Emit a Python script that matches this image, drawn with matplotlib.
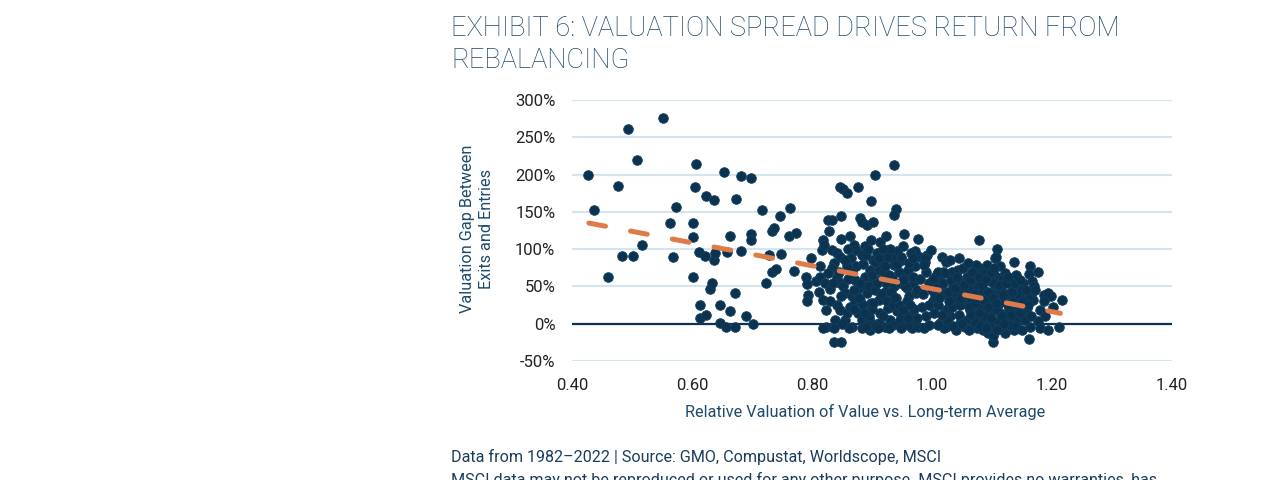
import matplotlib
matplotlib.use("Agg")
import matplotlib.pyplot as plt
from matplotlib.ticker import FuncFormatter

# ── Fonts / colours ───────────────────────────────────────────────────────────
FONT = ["Roboto", "DejaVu Sans"]
plt.rcParams["font.family"] = FONT

NAVY   = "#0b3350";  DOT_EDGE = "#12405f";  GRID = "#d3e5ee"
ORANGE = "#df7b48";  TITLE_C  = "#1e4868";  LABEL_C = "#1d4a6a"
TICK_C = "#222222";  NOTE_C   = "#1b3c5c"

W, H, DPI = 1275, 480, 100

# ── Data ──────────────────────────────────────────────────────────────────────
x_ticks = [0.40, 0.60, 0.80, 1.00, 1.20, 1.40]
y_ticks = [-50, 0, 50, 100, 150, 200, 250, 300]

# sparse left part, 0.42 - 0.78
rel_left = [0.427, 0.436, 0.460, 0.476, 0.483, 0.494, 0.501, 0.509, 0.516, 0.552,
            0.563, 0.568, 0.573, 0.601, 0.602, 0.601, 0.605, 0.607, 0.612, 0.614,
            0.614, 0.622, 0.623, 0.623, 0.630, 0.634, 0.636, 0.637, 0.639, 0.646,
            0.646, 0.653, 0.657, 0.659, 0.663, 0.663, 0.671, 0.672, 0.674, 0.682,
            0.682, 0.690, 0.698, 0.698, 0.698, 0.702, 0.716, 0.724, 0.729, 0.733,
            0.737, 0.734, 0.740, 0.747, 0.749, 0.763, 0.762, 0.773, 0.770]
gap_left = [199, 152, 62, 185, 91, 261, 91, 219, 105, 276,
            135, 90, 157, 62, 135, 116, 184, 214, 96, 25,
            8, 91, 171, 12, 46, 55, 85, 166, 95, 25,
            1, 203, -5, 96, 17, 117, 41, -4, 167, 198,
            98, 11, 120, 112, 195, 0, 153, 55, 92, 124,
            129, 70, 74, 144, 94, 155, 117, 122, 71]

# middle cloud, 0.79 - 1.02
rel_mid = [0.798, 0.790, 0.791, 0.794, 0.792, 0.807, 0.812, 0.813, 0.814, 0.816,
           0.819, 0.820, 0.829, 0.827, 0.833, 0.849, 0.847, 0.852, 0.858, 0.876,
           0.849, 0.863, 0.833, 0.841, 0.847, 0.836, 0.833, 0.841, 0.847, 0.852,
           0.855, 0.849, 0.841, 0.847, 0.838, 0.824, 0.819, 0.836, 0.836, 0.848,
           0.855, 0.858, 0.863, 0.866, 0.872, 0.877, 0.880, 0.883, 0.866, 0.883,
           0.897, 0.897, 0.911, 0.922, 0.930, 0.927, 0.941, 0.947, 0.958, 0.966,
           0.977, 0.986, 0.972, 0.963, 0.983, 1.002, 1.008, 1.011, 1.016, 1.024,
           1.019, 0.902, 0.897, 0.888, 0.886, 0.891, 0.902, 0.911, 0.919, 0.916,
           0.913, 0.924, 0.899, 0.880, 0.884, 0.891, 0.901, 0.898, 0.905, 0.936,
           0.940, 0.936, 0.953, 0.977, 0.952, 0.941, 0.933, 0.936, 0.933, 0.924,
           0.922, 0.936, 0.947, 0.958, 0.961, 0.969, 0.974, 0.972, 0.980, 0.988,
           0.991, 0.972, 0.999, 0.874, 0.883, 0.874, 0.866, 0.858, 0.888, 0.908,
           0.905, 0.872, 0.877, 0.899, 0.911, 0.913, 0.827, 0.822, 0.819, 0.824,
           0.830, 0.860, 0.865, 0.870, 0.890, 0.895, 0.905, 0.915, 0.920, 0.925,
           0.930, 0.945, 0.950, 0.955, 0.960, 0.965, 0.870, 0.885, 0.895, 0.905,
           0.915, 0.925, 0.935, 0.940, 0.950, 0.960, 0.830, 0.835, 0.845, 0.855,
           0.860, 0.862, 0.850, 0.890, 0.900, 0.910, 0.935, 0.945, 0.955, 0.970,
           0.975, 0.880, 0.885, 0.893, 0.900, 0.908, 0.912, 0.918, 0.922, 0.928,
           0.932, 0.938, 0.942, 0.948, 0.952, 0.958, 0.962, 0.968, 0.975, 0.980,
           0.985, 0.990, 0.995, 0.870, 0.878, 0.888, 0.902, 0.918, 0.928, 0.948,
           0.960]
gap_mid = [88, 63, 53, 39, 31, 57, 43, 63, 77, 99,
           112, 106, 125, 139, 139, 145, 184, 180, 175, 183,
           114, 117, 99, 95, 90, 81, 75, 63, 54, 50,
           41, 37, 25, 19, 5, -4, -6, -6, -24, -25,
           5, 14, 23, 37, 30, 14, 32, 5, -4, -6,
           -8, 3, 1, -4, 5, 21, 17, 5, 2, -6,
           -4, -6, 3, 12, 23, 30, 66, 59, 90, 83,
           70, 86, 72, 63, 50, 41, 59, 72, 81, 97,
           110, 117, 112, 142, 137, 133, 136, 164, 200, 213,
           154, 146, 120, 114, 104, 97, 88, 79, 63, 54,
           43, 50, 54, 48, 37, 54, 41, 77, 90, 83,
           92, 97, 99, 99, 92, 77, 70, 77, 104, 95,
           83, 59, 46, 28, 32, 14, 68, 54, 32, 19,
           46, 60, 88, 105, 92, 50, 45, 60, 70, 90,
           100, 70, 85, 62, 72, 95, 20, 25, 10, -3,
           40, 30, 25, 35, 15, -2, 30, 55, 70, 85,
           100, -6, 0, -4, 20, -6, -2, 25, 50, 20,
           8, 55, 80, 100, 65, 55, 88, 100, 78, 65,
           42, 35, 80, 90, 58, 30, 82, 62, 45, 60,
           40, 70, 25, 45, 35, 15, 28, 10, -6, -6,
           8]

# dense right cluster, 0.95 - 1.22
rel_right = [0.969, 0.988, 0.986, 1.005, 0.963, 0.952, 1.013, 1.024, 1.030, 1.022,
             1.030, 1.036, 1.041, 1.038, 1.033, 1.044, 1.052, 1.058, 1.049, 1.063,
             1.058, 1.047, 1.066, 1.074, 1.083, 1.091, 1.097, 1.094, 1.102, 1.099,
             1.086, 1.074, 1.080, 1.069, 1.074, 1.080, 1.074, 1.091, 1.088, 1.097,
             1.105, 1.108, 1.111, 1.108, 1.105, 1.079,
             1.107, 1.136, 1.163, 1.177, 1.161, 1.166, 1.152, 1.141, 1.130, 1.122,
             1.113, 1.102, 1.108, 1.099, 1.105, 1.102, 1.113, 1.111, 1.099, 1.102,
             1.122, 1.136, 1.130, 1.122, 1.144, 1.152, 1.138, 1.149, 1.158, 1.169,
             1.166, 1.186, 1.194, 1.199, 1.186, 1.180, 1.188, 1.177, 1.180, 1.163,
             1.162, 1.194, 1.211, 1.216, 1.202,
             1.000, 1.005, 0.995, 1.010, 1.015, 1.020, 1.027, 1.035, 1.040, 1.045,
             1.050, 1.055, 1.060, 1.065, 1.068, 1.072, 1.078, 1.082, 1.085, 1.088,
             1.092, 1.095, 1.100, 1.103, 1.110, 1.115, 1.118, 1.120, 1.125, 1.128,
             1.133, 1.135, 1.140, 1.145, 1.150, 1.155, 1.160, 1.170, 1.010, 1.030,
             1.045, 1.060, 1.070, 0.990, 0.995, 1.020, 1.040, 1.055, 1.075, 1.085,
             1.115, 1.130,
             1.002, 1.006, 1.012, 1.018, 1.022, 1.026, 1.031, 1.034, 1.038, 1.042,
             1.046, 1.049, 1.053, 1.057, 1.061, 1.064, 1.067, 1.071, 1.076, 1.079,
             1.083, 1.087, 1.090, 1.094, 1.098, 1.101, 1.104, 1.107, 1.112, 1.116,
             1.119, 1.123, 1.127, 1.131, 1.134, 1.138, 1.142, 1.147, 1.151, 1.156,
             1.160, 1.165, 1.172, 1.010, 1.025, 1.035, 1.050, 1.062, 1.072, 1.080,
             1.090, 1.098, 1.108, 1.120, 1.140, 1.150, 1.003, 1.016, 1.028, 1.065,
             1.078, 1.093, 1.106, 1.126, 1.146]
gap_right = [88, 88, 79, 63, 25, 19, 1, -4, 10, 19,
             28, 37, 50, 61, 70, 72, 75, 63, 55, 19,
             5, 1, -4, 8, 1, 10, 1, -12, -24, 30,
             23, 25, 37, 46, 57, 75, 79, 79, 68, 57,
             48, 63, 37, 100, 88, 112,
             90, 83, 78, 69, 66, 57, 54, 48, 59, 68,
             77, 68, 52, 41, 32, 19, 14, 3, -4, -17,
             -12, -8, 3, 10, 5, 14, 19, 28, 21, 32,
             43, 39, 41, 37, 30, 19, 10, 3, -6, -4,
             -21, -8, -4, 32, 23,
             45, 38, 55, 25, 48, 40, 20, 50, 30, 12,
             42, 30, 48, 30, 15, 40, 50, 20, 45, 10,
             35, 62, 20, 55, 25, 45, 60, 30, 40, 20,
             50, 30, 65, 38, 45, 5, 35, 50, 70, 85,
             88, 82, 68, 10, -2, -6, -8, -5, -6, -8,
             -5, -2,
             60, 48, 35, 55, 68, 42, 58, 22, 48, 62,
             25, 35, 52, 40, 22, 58, 70, 28, 35, 62,
             52, 32, 60, 42, 70, 35, 75, 20, 52, 10,
             38, 55, 62, 12, 42, 55, 25, 58, 30, 45,
             25, 10, 45, -2, 5, -3, 0, -8, 2, -3,
             -6, 8, -8, 0, -3, -8, 15, 12, 30, 12,
             15, 22, 28, 25, 15]

trend_x = [0.428, 1.214]
trend_y = [135, 14]

rel_all = rel_left + rel_mid + rel_right
gap_all = gap_left + gap_mid + gap_right

# ── Figure ────────────────────────────────────────────────────────────────────
fig = plt.figure(figsize=(W/DPI, H/DPI), dpi=DPI, facecolor="white")
ax = fig.add_axes([572/W, 1 - 361/H, 600/W, 261/H])
ax.set_xlim(0.4, 1.4)
ax.set_ylim(-50, 300)

for y in y_ticks:
    if y != 0:
        ax.axhline(y, color=GRID, lw=1.5, zorder=0)
ax.axhline(0, color=NAVY, lw=1.6, zorder=1)

ax.scatter(rel_all, gap_all, s=48, c=NAVY, edgecolors=DOT_EDGE, linewidths=0.6,
           zorder=3, clip_on=False)
ax.plot(trend_x, trend_y, color=ORANGE, lw=3.6, dashes=(3.4, 5.1),
        dash_capstyle="round", zorder=4)

ax.set_xticks(x_ticks)
ax.set_xticklabels([f"{t:.2f}" for t in x_ticks])
ax.set_yticks(y_ticks)
ax.yaxis.set_major_formatter(FuncFormatter(lambda v, p: f"{v:.0f}%"))
ax.tick_params(axis="both", length=0, labelsize=12, colors=TICK_C)
ax.tick_params(axis="y", pad=12)
ax.tick_params(axis="x", pad=12)
for s in ax.spines.values():
    s.set_visible(False)

ax.text(0.488, -0.195, "Relative Valuation of Value vs. Long-term Average",
        transform=ax.transAxes, ha="center", va="center", fontsize=11.7, color=LABEL_C)
ax.text(-0.158, 0.505, "Valuation Gap Between\nExits and Entries",
        transform=ax.transAxes, ha="center", va="center", rotation=90,
        multialignment="center", fontsize=11.7, color=LABEL_C, linespacing=1.35)

# title + notes
fig.text(451/W, 1 - 28/H, "EXHIBIT 6: VALUATION SPREAD DRIVES RETURN FROM",
         ha="left", va="center", fontsize=19.6, fontweight="light", color=TITLE_C)
fig.text(451/W, 1 - 61/H, "REBALANCING",
         ha="left", va="center", fontsize=19.6, fontweight="light", color=TITLE_C)
fig.text(451/W, 1 - 457/H, "Data from 1982\u20132022 | Source: GMO, Compustat, Worldscope, MSCI",
         ha="left", va="center", fontsize=11.6, color=NOTE_C)
fig.text(451/W, 1 - 472/H,
         "MSCI data may not be reproduced or used for any other purpose. MSCI provides no warranties, has",
         ha="left", va="top", fontsize=11.6, color=NOTE_C)

fig.savefig("out.png", dpi=DPI, facecolor="white")
plt.close(fig)
